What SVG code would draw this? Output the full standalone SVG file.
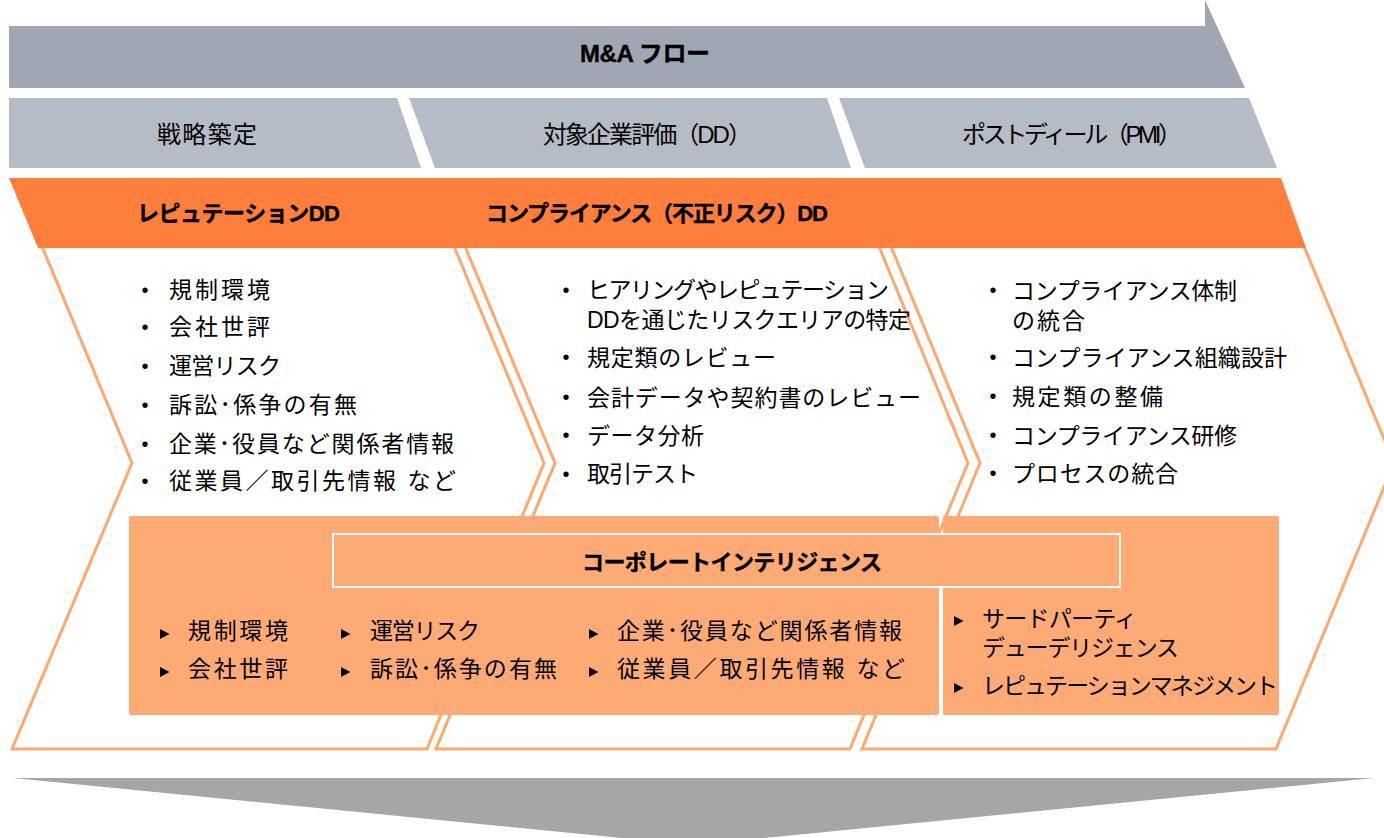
<svg xmlns="http://www.w3.org/2000/svg" xmlns:xlink="http://www.w3.org/1999/xlink" width="1384" height="838" viewBox="0 0 1384 838">
<style>
.t{font-family:"Liberation Sans","Noto Sans CJK JP",sans-serif;fill:#000}
.b{font-size:23px}
.h{font-size:24px}
.bold{font-weight:bold;font-size:22px;stroke:#000;stroke-width:0.4}
.ttl{font-size:24px}
.bul{font-family:"Liberation Sans",sans-serif;font-size:20px;text-anchor:middle}
.chev{fill:#fff;stroke:#FDA96C;stroke-width:3;stroke-linejoin:miter}
.peach{fill:#FDAA74}
</style>
<defs>
<path id="tri" d="M0,-5 L9.5,0 L0,5 Z" fill="#000"/>
</defs>

<g id="mna-flow">
<polygon points="9,26 1205,26 1205,0 1245,88 9,88" fill="#A1A7B2"/>
<text class="t bold ttl" x="580" y="62" textLength="130" lengthAdjust="spacing">M&amp;A フロー</text>
</g>

<g id="phase-strategy">
<polygon points="9,98 397,98 421,168 9,168" fill="#B6BCC5"/>
<text class="t h" x="157" y="143" textLength="100" lengthAdjust="spacing">戦略築定</text>
</g>
<g id="phase-dd">
<polygon points="409,98 827,98 851,168 435,168" fill="#B6BCC5"/>
<text class="t h" x="543" y="143" textLength="209" lengthAdjust="spacing">対象企業評価（DD）</text>
</g>
<g id="phase-pmi">
<polygon points="839,98 1249,98 1277,168 865,168" fill="#B6BCC5"/>
<text class="t h" x="962" y="143" textLength="220" lengthAdjust="spacing">ポストディール（PMI）</text>
</g>

<g id="chevron-1">
<polygon class="chev" points="41,244 453,244 544,463 427,749 12,749 132,463"/>
<text class="t bul" x="145" y="297">•</text>
<text class="t bul" x="145" y="334">•</text>
<text class="t bul" x="145" y="373">•</text>
<text class="t bul" x="145" y="412">•</text>
<text class="t bul" x="145" y="451">•</text>
<text class="t bul" x="145" y="488">•</text>
<text class="t b" x="169" y="298" textLength="101" lengthAdjust="spacing">規制環境</text>
<text class="t b" x="169" y="335" textLength="101" lengthAdjust="spacing">会社世評</text>
<text class="t b" x="169" y="374" textLength="112" lengthAdjust="spacing">運営リスク</text>
<text class="t b" x="169" y="413" textLength="188" lengthAdjust="spacing">訴訟･係争の有無</text>
<text class="t b" x="169" y="452" textLength="285" lengthAdjust="spacing">企業･役員など関係者情報</text>
<text class="t b" x="169" y="489" textLength="287" lengthAdjust="spacing">従業員／取引先情報  など</text>
</g>

<g id="chevron-2">
<polygon class="chev" points="464,244 878,244 968,463 850,749 436,749 555,463"/>
<text class="t bul" x="566" y="297">•</text>
<text class="t bul" x="566" y="364">•</text>
<text class="t bul" x="566" y="404">•</text>
<text class="t bul" x="566" y="442">•</text>
<text class="t bul" x="566" y="481">•</text>
<text class="t b" x="587" y="298" textLength="302" lengthAdjust="spacing">ヒアリングやレピュテーション</text>
<text class="t b" x="587" y="327.5" textLength="324" lengthAdjust="spacing">DDを通じたリスクエリアの特定</text>
<text class="t b" x="587" y="365.5" textLength="189" lengthAdjust="spacing">規定類のレビュー</text>
<text class="t b" x="587" y="405.5" textLength="334" lengthAdjust="spacing">会計データや契約書のレビュー</text>
<text class="t b" x="587" y="443.5" textLength="117" lengthAdjust="spacing">データ分析</text>
<text class="t b" x="587" y="482" textLength="111" lengthAdjust="spacing">取引テスト</text>
</g>

<g id="chevron-3">
<polygon class="chev" points="890,244 1303,244 1394,463 1276,749 862,749 980,463"/>
<text class="t bul" x="993" y="297">•</text>
<text class="t bul" x="993" y="364">•</text>
<text class="t bul" x="993" y="403">•</text>
<text class="t bul" x="993" y="442">•</text>
<text class="t bul" x="993" y="480">•</text>
<text class="t b" x="1012" y="298.5" textLength="225" lengthAdjust="spacing">コンプライアンス体制</text>
<text class="t b" x="1012" y="328.5" textLength="73" lengthAdjust="spacing">の統合</text>
<text class="t b" x="1012" y="365.5" textLength="275" lengthAdjust="spacing">コンプライアンス組織設計</text>
<text class="t b" x="1012" y="404.5" textLength="151" lengthAdjust="spacing">規定類の整備</text>
<text class="t b" x="1012" y="443.5" textLength="225" lengthAdjust="spacing">コンプライアンス研修</text>
<text class="t b" x="1012" y="481.5" textLength="166" lengthAdjust="spacing">プロセスの統合</text>
</g>

<g id="dd-band">
<polygon points="9,178 1281,178 1306,248 38,248" fill="#FE7E3C"/>
<text class="t bold" x="137" y="221" textLength="203" lengthAdjust="spacing">レピュテーションDD</text>
<text class="t bold" x="486" y="221" textLength="342" lengthAdjust="spacing">コンプライアンス（不正リスク）DD</text>
</g>

<g id="corporate-intelligence">
<rect class="peach" x="129" y="516" width="810" height="199" rx="2"/>
<rect class="peach" x="943" y="516" width="336" height="199" rx="2"/>
<rect class="peach" x="333" y="534" width="787" height="53" stroke="#fff" stroke-width="2"/>
<text class="t bold" x="582" y="570" textLength="300" lengthAdjust="spacing">コーポレートインテリジェンス</text>
<use xlink:href="#tri" x="160" y="634"/>
<use xlink:href="#tri" x="160" y="672"/>
<use xlink:href="#tri" x="341" y="634"/>
<use xlink:href="#tri" x="341" y="672"/>
<use xlink:href="#tri" x="589" y="634"/>
<use xlink:href="#tri" x="589" y="672"/>
<use xlink:href="#tri" x="954" y="621"/>
<use xlink:href="#tri" x="954" y="688"/>
<text class="t b" x="188" y="639" textLength="100" lengthAdjust="spacing">規制環境</text>
<text class="t b" x="188" y="676.5" textLength="100" lengthAdjust="spacing">会社世評</text>
<text class="t b" x="370" y="639" textLength="110" lengthAdjust="spacing">運営リスク</text>
<text class="t b" x="370" y="676.5" textLength="187" lengthAdjust="spacing">訴訟･係争の有無</text>
<text class="t b" x="617" y="639" textLength="285" lengthAdjust="spacing">企業･役員など関係者情報</text>
<text class="t b" x="617" y="676.5" textLength="288" lengthAdjust="spacing">従業員／取引先情報  など</text>
<text class="t b" x="982" y="627" textLength="155" lengthAdjust="spacing">サードパーティ</text>
<text class="t b" x="982" y="656" textLength="197" lengthAdjust="spacing">デューデリジェンス</text>
<text class="t b" x="982" y="694" textLength="296" lengthAdjust="spacing">レピュテーションマネジメント</text>
</g>

<g id="connectors">
<polygon id="down-arrow" points="13,778 1374,778 693,845" fill="#A6A6A6"/>
</g>
</svg>
